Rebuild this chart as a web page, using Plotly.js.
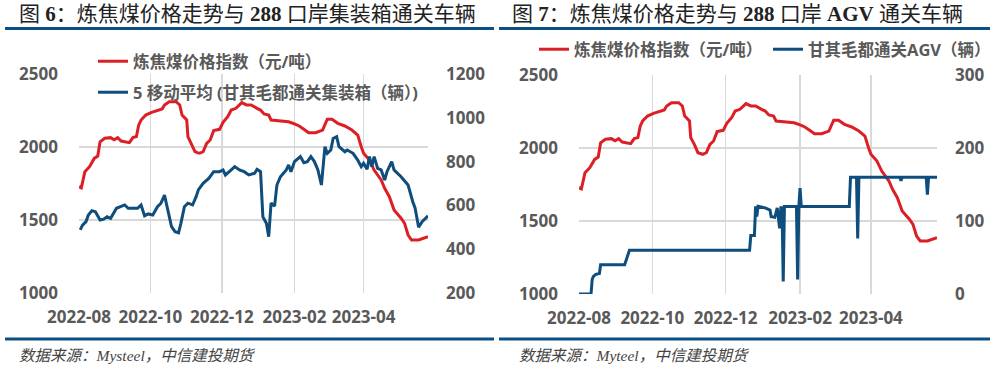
<!DOCTYPE html>
<html>
<head>
<meta charset="utf-8">
<script src="https://cdn.plot.ly/plotly-3.0.1.min.js"></script>
<style>html,body{margin:0;padding:0;background:#fff;}#chart{width:997px;height:377px;}</style>
</head>
<body>
<div id="chart"></div>
<script>
// ---------------- data ----------------
const tickDates = ['2022-08-01','2022-10-01','2022-12-01','2023-02-01','2023-04-01'];
const tickLabels = ['2022-08','2022-10','2022-12','2023-02','2023-04'];

const priceDates = ['2022-08-01','2022-08-03','2022-08-06','2022-08-10','2022-08-14','2022-08-17','2022-08-19','2022-08-23','2022-08-28','2022-08-31','2022-09-03','2022-09-06','2022-09-13','2022-09-16','2022-09-19','2022-09-21','2022-09-23','2022-09-27','2022-10-02','2022-10-07','2022-10-11','2022-10-13','2022-10-17','2022-10-23','2022-10-26','2022-10-28','2022-11-01','2022-11-02','2022-11-05','2022-11-08','2022-11-10','2022-11-12','2022-11-15','2022-11-18','2022-11-21','2022-11-24','2022-11-29','2022-12-02','2022-12-06','2022-12-09','2022-12-13','2022-12-18','2022-12-22','2022-12-26','2022-12-31','2023-01-03','2023-01-06','2023-01-10','2023-01-12','2023-01-20','2023-01-27','2023-02-01','2023-02-05','2023-02-09','2023-02-13','2023-02-19','2023-02-25','2023-03-01','2023-03-05','2023-03-10','2023-03-16','2023-03-22','2023-03-27','2023-03-30','2023-04-01','2023-04-06','2023-04-10','2023-04-16','2023-04-19','2023-04-23','2023-04-27','2023-05-03','2023-05-06','2023-05-09','2023-05-12','2023-05-18','2023-05-24','2023-05-26'];
const priceValues = [1728,1720,1831,1865,1922,1938,2036,2060,2064,2050,2064,2041,2030,2064,2071,2151,2185,2219,2237,2249,2260,2288,2310,2310,2288,2219,2185,2071,2025,1968,1961,1957,1968,2025,2048,2112,2121,2169,2208,2253,2265,2304,2288,2288,2265,2253,2226,2219,2185,2180,2173,2158,2144,2121,2098,2098,2116,2190,2190,2162,2144,2116,2082,2002,1957,1911,1842,1774,1717,1660,1568,1512,1477,1397,1363,1363,1382,1386];

const containerDates = ['2022-08-02','2022-08-04','2022-08-07','2022-08-09','2022-08-12','2022-08-15','2022-08-19','2022-08-22','2022-08-25','2022-08-28','2022-09-02','2022-09-06','2022-09-09','2022-09-12','2022-09-16','2022-09-20','2022-09-23','2022-09-26','2022-09-29','2022-10-03','2022-10-07','2022-10-10','2022-10-13','2022-10-15','2022-10-19','2022-10-22','2022-10-25','2022-10-27','2022-10-30','2022-11-02','2022-11-06','2022-11-09','2022-11-11','2022-11-15','2022-11-20','2022-11-24','2022-11-29','2022-12-02','2022-12-04','2022-12-09','2022-12-12','2022-12-16','2022-12-20','2022-12-24','2022-12-29','2022-12-31','2023-01-03','2023-01-05','2023-01-08','2023-01-10','2023-01-12','2023-01-15','2023-01-17','2023-01-20','2023-01-25','2023-01-27','2023-01-29','2023-02-01','2023-02-04','2023-02-06','2023-02-09','2023-02-12','2023-02-15','2023-02-18','2023-02-21','2023-02-24','2023-02-27','2023-03-01','2023-03-04','2023-03-06','2023-03-09','2023-03-11','2023-03-16','2023-03-18','2023-03-23','2023-03-27','2023-03-30','2023-04-01','2023-04-04','2023-04-06','2023-04-08','2023-04-10','2023-04-13','2023-04-16','2023-04-19','2023-04-21','2023-04-25','2023-04-27','2023-05-03','2023-05-09','2023-05-13','2023-05-15','2023-05-18','2023-05-21','2023-05-26'];
const containerMA5 = [488,510,526,556,576,571,533,537,548,541,587,594,602,587,587,587,602,552,561,556,594,610,647,602,503,480,475,518,594,610,602,640,672,701,724,754,754,762,739,762,777,762,754,739,747,765,754,548,518,457,610,597,693,731,762,785,754,800,815,823,795,800,823,800,762,693,868,838,853,906,914,868,845,853,838,807,777,792,765,823,777,823,769,762,716,754,800,762,731,693,617,587,500,526,552];

const agvDates = ['2022-08-01','2022-08-11','2022-08-12','2022-08-13','2022-08-15','2022-08-18','2022-08-19','2022-09-08','2022-09-10','2022-09-12','2022-12-21','2022-12-22','2022-12-25','2022-12-26','2022-12-27','2022-12-28','2023-01-03','2023-01-07','2023-01-08','2023-01-11','2023-01-13','2023-01-15','2023-01-16','2023-01-17','2023-01-18','2023-01-19','2023-01-29','2023-01-30','2023-01-31','2023-02-01','2023-02-02','2023-03-14','2023-03-15','2023-03-20','2023-03-21','2023-03-22','2023-04-25','2023-04-26','2023-04-27','2023-05-17','2023-05-18','2023-05-19','2023-05-26'];
const agvValues = [0,0,20,24,27,28,40,40,50,60,60,80,80,120,106,120,118,115,106,105,118,90,118,118,17,120,120,20,120,145,120,120,160,160,76,160,160,155,160,160,136,160,160];

const priceName = '炼焦煤价格指数（元/吨）';
const containerName = '5 移动平均 (甘其毛都通关集装箱（辆）)';
const agvName = '甘其毛都通关AGV（辆）';

// ---------------- styling ----------------
const W = 997, H = 377;
const px = x => x / W, py = y => 1 - y / H;
const RED = '#dc1f26', BLUE = '#0e4d7c', GRID = '#d9d9d9', LBL = '#595959', RULE = '#0b4f82';
const FONT = '"Open Sans", "Noto Sans CJK SC", sans-serif';
const SERIF = '"Liberation Serif", "Noto Sans CJK SC", serif';
const tickFont = {family: FONT, size: 17, color: LBL, weight: 'bold'};
const legFont = {family: FONT, size: 16.5, color: LBL, weight: 'bold'};
const xRange = ['2022-08-01', '2023-05-26'];

const traces = [
  {x: priceDates, y: priceValues, name: priceName, type: 'scatter', mode: 'lines', xaxis: 'x', yaxis: 'y', legend: 'legend', line: {color: RED, width: 3}},
  {x: containerDates, y: containerMA5, name: containerName, type: 'scatter', mode: 'lines', xaxis: 'x', yaxis: 'y2', legend: 'legend2', line: {color: BLUE, width: 3}},
  {x: priceDates, y: priceValues, name: priceName, type: 'scatter', mode: 'lines', xaxis: 'x2', yaxis: 'y3', legend: 'legend3', line: {color: RED, width: 3}},
  {x: agvDates, y: agvValues, name: agvName, type: 'scatter', mode: 'lines', xaxis: 'x2', yaxis: 'y4', legend: 'legend4', line: {color: BLUE, width: 3}}
];

function xa(dom, anchor) {
  return {domain: dom, anchor: anchor, type: 'date', range: xRange, tickmode: 'array', tickvals: tickDates, ticktext: tickLabels,
    showgrid: true, gridcolor: GRID, gridwidth: 1.5, zeroline: false, showline: false, ticks: '', tickfont: tickFont, ticklabelstandoff: 12, fixedrange: true};
}
function ya(dom, anchor, range, dtick, side, overlay) {
  const a = {domain: dom, anchor: anchor, range: range, dtick: dtick, tick0: range[0], side: side,
    showgrid: !overlay, gridcolor: GRID, gridwidth: 1.5, zeroline: false, showline: false, ticks: '', tickfont: tickFont, ticklabelstandoff: side === 'left' ? 20 : 17, fixedrange: true};
  if (overlay) a.overlaying = overlay;
  return a;
}
const legBase = {xanchor: 'left', yanchor: 'top', bgcolor: 'rgba(0,0,0,0)', borderwidth: 0, font: legFont, orientation: 'v'};

const layout = {
  width: W, height: H, margin: {l: 0, r: 0, t: 0, b: 0}, paper_bgcolor: '#ffffff', plot_bgcolor: 'rgba(0,0,0,0)', showlegend: true,
  xaxis: xa([px(79), px(428)], 'y'),
  yaxis: ya([py(293), py(74)], 'x', [1000, 2500], 500, 'left'),
  yaxis2: ya([py(293), py(74)], 'x', [200, 1200], 200, 'right', 'y'),
  xaxis2: xa([px(579), px(937)], 'y3'),
  yaxis3: ya([py(294), py(75)], 'x2', [1000, 2500], 500, 'left'),
  yaxis4: ya([py(294), py(75)], 'x2', [0, 300], 100, 'right', 'y3'),
  legend: Object.assign({}, legBase, {x: px(93), y: py(44)}),
  legend2: Object.assign({}, legBase, {x: px(93), y: py(75)}),
  legend3: Object.assign({}, legBase, {x: px(534), y: py(32)}),
  legend4: Object.assign({}, legBase, {x: px(768), y: py(32)}),
  shapes: [
    {type: 'line', xref: 'paper', yref: 'paper', x0: px(5), x1: px(494), y0: py(28.5), y1: py(28.5), line: {color: RULE, width: 3}},
    {type: 'line', xref: 'paper', yref: 'paper', x0: px(499), x1: px(990), y0: py(28.5), y1: py(28.5), line: {color: RULE, width: 3}},
    {type: 'line', xref: 'paper', yref: 'paper', x0: px(5), x1: px(494), y0: py(339), y1: py(339), line: {color: RULE, width: 3}},
    {type: 'line', xref: 'paper', yref: 'paper', x0: px(499), x1: px(990), y0: py(339), y1: py(339), line: {color: RULE, width: 3}}
  ],
  annotations: [
    {xref: 'paper', yref: 'paper', x: px(17), y: py(14), xanchor: 'left', yanchor: 'middle', showarrow: false,
     text: '图 <b>6</b>：炼焦煤价格走势与 <b>288</b> 口岸集装箱通关车辆', font: {family: SERIF, size: 21, color: '#222222'}},
    {xref: 'paper', yref: 'paper', x: px(510), y: py(14), xanchor: 'left', yanchor: 'middle', showarrow: false,
     text: '图 <b>7</b>：炼焦煤价格走势与 <b>288</b> 口岸 <b>AGV</b> 通关车辆', font: {family: SERIF, size: 21, color: '#222222'}},
    {xref: 'paper', yref: 'paper', x: px(17), y: py(355), xanchor: 'left', yanchor: 'middle', showarrow: false,
     text: '<i>数据来源：Mysteel，中信建投期货</i>', font: {family: SERIF, size: 15.5, color: '#444444'}},
    {xref: 'paper', yref: 'paper', x: px(517), y: py(355), xanchor: 'left', yanchor: 'middle', showarrow: false,
     text: '<i>数据来源：Myteel，中信建投期货</i>', font: {family: SERIF, size: 15.5, color: '#444444'}}
  ]
};

Plotly.newPlot('chart', traces, layout, {displayModeBar: false, staticPlot: true});
</script>
</body>
</html>
